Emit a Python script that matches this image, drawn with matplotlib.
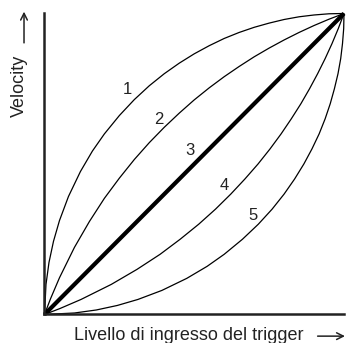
import matplotlib.pyplot as plt

plt.rcParams['font.family'] = ['Liberation Sans', 'DejaVu Sans']

# Velocity curves, read as fractions of the full input / output range
curve1_x = [0, 0.005, 0.015, 0.03, 0.05, 0.08, 0.12, 0.16, 0.2, 0.25, 0.3, 0.35, 0.4,
            0.45, 0.5, 0.55, 0.6, 0.65, 0.7, 0.75, 0.8, 0.85, 0.9, 0.95, 1.0]
curve1_y = [0, 0.100, 0.173, 0.243, 0.312, 0.392, 0.475, 0.543, 0.600, 0.661, 0.714, 0.760, 0.800,
            0.835, 0.866, 0.893, 0.917, 0.937, 0.954, 0.968, 0.980, 0.989, 0.995, 0.999, 1.0]

curve2_x = [0, 0.02, 0.05, 0.1, 0.15, 0.2, 0.25, 0.3, 0.35, 0.4, 0.45, 0.5, 0.55,
            0.6, 0.65, 0.7, 0.75, 0.8, 0.85, 0.9, 0.95, 1.0]
curve2_y = [0, 0.052, 0.122, 0.223, 0.309, 0.386, 0.453, 0.515, 0.571, 0.622, 0.669, 0.713, 0.753,
            0.790, 0.824, 0.856, 0.885, 0.912, 0.937, 0.960, 0.981, 1.0]

curve3_x = [0, 1.0]
curve3_y = [0, 1.0]

curve4_x = [0, 0.052, 0.122, 0.223, 0.309, 0.386, 0.453, 0.515, 0.571, 0.622, 0.669, 0.713, 0.753,
            0.790, 0.824, 0.856, 0.885, 0.912, 0.937, 0.960, 0.981, 1.0]
curve4_y = [0, 0.02, 0.05, 0.1, 0.15, 0.2, 0.25, 0.3, 0.35, 0.4, 0.45, 0.5, 0.55,
            0.6, 0.65, 0.7, 0.75, 0.8, 0.85, 0.9, 0.95, 1.0]

curve5_x = [0, 0.100, 0.173, 0.243, 0.312, 0.392, 0.475, 0.543, 0.600, 0.661, 0.714, 0.760, 0.800,
            0.835, 0.866, 0.893, 0.917, 0.937, 0.954, 0.968, 0.980, 0.989, 0.995, 0.999, 1.0]
curve5_y = [0, 0.005, 0.015, 0.03, 0.05, 0.08, 0.12, 0.16, 0.2, 0.25, 0.3, 0.35, 0.4,
            0.45, 0.5, 0.55, 0.6, 0.65, 0.7, 0.75, 0.8, 0.85, 0.9, 0.95, 1.0]

curve_labels = ['1', '2', '3', '4', '5']
label_x = [0.277, 0.382, 0.484, 0.599, 0.697]
label_y = [0.749, 0.647, 0.544, 0.429, 0.328]

fig = plt.figure(figsize=(3.46, 3.43), dpi=100)
ax = fig.add_axes([0.1286, 0.0831, 0.8656, 0.8776])

curves = [(curve1_x, curve1_y), (curve2_x, curve2_y), (curve3_x, curve3_y),
          (curve4_x, curve4_y), (curve5_x, curve5_y)]
for i, (cx, cy) in enumerate(curves):
    lw = 3.0 if i == 2 else 0.9
    ax.plot(cx, cy, color='black', lw=lw, clip_on=False, solid_capstyle='butt')

for lab, lx, ly in zip(curve_labels, label_x, label_y):
    ax.text(lx, ly, lab, fontsize=12, color='#222222', ha='center', va='center')

ax.set_xlim(0, 1)
ax.set_ylim(0, 1)
for side in ['top', 'right']:
    ax.spines[side].set_visible(False)
for side in ['left', 'bottom']:
    ax.spines[side].set_linewidth(1.8)
    ax.spines[side].set_color('#222222')
ax.set_xticks([])
ax.set_yticks([])
ax.patch.set_alpha(0)

# axis titles with their arrows
fig.text(0.546, 0.0073, 'Livello di ingresso del trigger', fontsize=13, color='#222222',
         ha='center', va='baseline')
fig.text(0.082, 0.749, 'Velocity', fontsize=13, color='#222222', rotation=90,
         ha='right', va='center')
arrow_style = dict(arrowstyle='->', lw=1.1, color='#222222',
                   mutation_scale=12, shrinkA=0, shrinkB=0)
ax.annotate('', xy=(0.997, 0.020), xytext=(0.918, 0.020), xycoords='figure fraction',
            arrowprops=arrow_style, annotation_clip=False)
ax.annotate('', xy=(0.0694, 0.966), xytext=(0.0694, 0.875), xycoords='figure fraction',
            arrowprops=arrow_style, annotation_clip=False)

fig.savefig('out.png', dpi=100)
